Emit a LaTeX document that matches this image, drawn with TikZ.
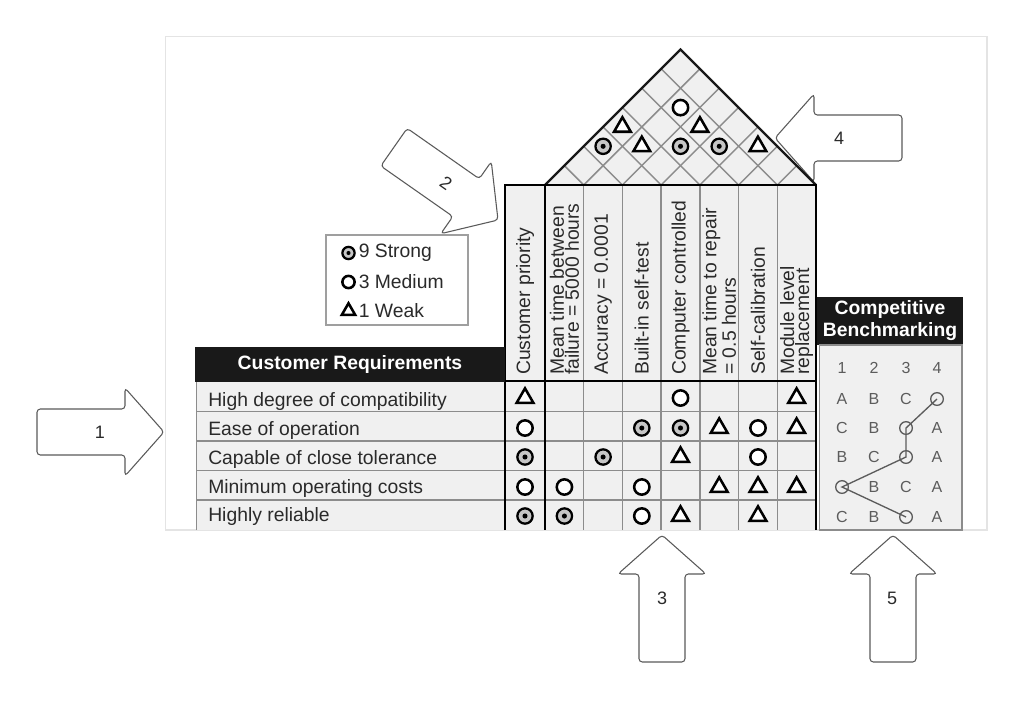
\documentclass[tikz,border=0pt]{standalone}
\usepackage{fontspec}
\setmainfont{Liberation Sans}
\usetikzlibrary{shapes.geometric}
\definecolor{cellgray}{HTML}{F0F0F0}
\definecolor{gridgray}{HTML}{8C8C8C}
\definecolor{framegray}{HTML}{E4E4E4}
\definecolor{arrowgray}{HTML}{5A5A5A}
\definecolor{inkgray}{HTML}{2A2A2A}
\definecolor{benchgray}{HTML}{5C5C5C}
\tikzset{
 gridline/.style={draw=gridgray, line width=1.1pt},
 heavy/.style={draw=black, line width=2.2pt, line join=miter},
 roofline/.style={draw=black!90, line width=1.7pt, line join=miter},
 strong/.style={circle, draw=black, line width=1.7pt, fill=gray!45, minimum size=11.5pt, inner sep=0pt,
   path picture={\fill[black] (path picture bounding box.center) circle[radius=1.9pt];}},
 medium/.style={circle, draw=black, line width=1.9pt, fill=white, minimum size=11.5pt, inner sep=0pt},
 weak/.style={regular polygon, regular polygon sides=3, draw=black, line width=1.9pt, fill=white, minimum size=14.5pt, inner sep=0pt},
 legsym/.style={scale=0.8},
 reqtext/.style={anchor=base west, inner sep=0pt, text=inkgray, font=\fontsize{14.5}{17}\selectfont},
 colhead/.style={rotate=90, anchor=west, align=left, inner sep=0pt, text=inkgray, font=\fontsize{14.5}{11.3}\selectfont},
 benchtext/.style={inner sep=0pt, text=benchgray, font=\fontsize{12}{14}\selectfont},
 bcirc/.style={circle, draw=benchgray, line width=1pt, minimum size=9.5pt, inner sep=0pt},
 bline/.style={draw=benchgray, line width=1pt},
 arrowlabel/.style={inner sep=0pt, text=inkgray, font=\fontsize{13.5}{16}\selectfont},
 headtext/.style={inner sep=0pt, text=white, align=center, font=\bfseries\fontsize{14.5}{16.5}\selectfont},
 blockarrow/.pic={\draw[draw=arrowgray, line width=0.8pt, fill=white, rounded corners=2.5pt]
   (-127,-23) -- (-39,-23) -- (-39,-44) -- (0,0) -- (-39,44) -- (-39,23) -- (-127,23) -- cycle;},
}
\begin{document}
\begin{tikzpicture}[x=0.75pt,y=-0.75pt]
\useasboundingbox (0,0) rectangle (1023,700);
\fill[white] (0,0) rectangle (1023,700);
\draw[framegray, line width=0.9pt, fill=white] (165.5,36.5) rectangle (987,530);

% callout arrows
\pic at (164,432) {blockarrow};
\pic[rotate=-35] at (498,220) {blockarrow};
\pic[rotate=90] at (662,535) {blockarrow};
\pic[rotate=180] at (775,138) {blockarrow};
\pic[rotate=90] at (893,535) {blockarrow};
\node[arrowlabel] (lab1) at (100,432) {1};
\node[arrowlabel, rotate=-35] (lab2) at (446,183) {2};
\node[arrowlabel] (lab3) at (662,598) {3};
\node[arrowlabel] (lab4) at (839,138) {4};
\node[arrowlabel] (lab5) at (892,598) {5};

% fills
\fill[cellgray] (505,185) rectangle (816,382);
\fill[cellgray] (196,382) rectangle (816,530);
\fill[cellgray] (545,185) -- (680.5,49.5) -- (816,185) -- cycle;

% roof grid
\foreach \i in {1,...,6} {
  \draw[gridline] ({545+\i*38.714},185) -- ({545+\i*19.357},{185-\i*19.357});
  \draw[gridline] ({545+\i*38.714},185) -- ({545+(7+\i)*19.357},{185-(7-\i)*19.357});
}
% matrix grid
\foreach \i in {1,...,6} \draw[gridline] ({545+\i*38.714},185) -- ({545+\i*38.714},530);
\foreach \y in {411.5,441,470.5,500} \draw[gridline] (196,\y) -- (816,\y);
\draw[gridline] (196.5,382) -- (196.5,530);

% heavy lines
\draw[roofline] (545,185) -- (680.5,49.5) -- (816,185);
\draw[heavy] (505,530) -- (505,185) -- (816,185) -- (816,530);
\draw[heavy] (545,185) -- (545,530);
\draw[heavy] (505,381) -- (816,381);

% customer requirements
\fill[black!90] (195,347) rectangle (505,382);
\node[headtext] (crh) at (350,364.5) {Customer Requirements};
\node[reqtext] (q1) at (208,406) {High degree of compatibility};
\node[reqtext] (q2) at (208,435) {Ease of operation};
\node[reqtext] (q3) at (208,464) {Capable of close tolerance};
\node[reqtext] (q4) at (208,493) {Minimum operating costs};
\node[reqtext] (q5) at (208,521) {Highly reliable};

% column headers
\node[colhead] (h0) at (525,375) {Customer priority};
\node[colhead] (h1) at (564.4,375) {Mean time between\\failure = 5000 hours};
\node[colhead] (h2) at (603.1,375) {Accuracy = 0.0001};
\node[colhead] (h3) at (641.8,375) {Built-in self-test};
\node[colhead] (h4) at (680.5,375) {Computer controlled};
\node[colhead] (h5) at (719.2,375) {Mean time to repair\\= 0.5 hours};
\node[colhead] (h6) at (758,375) {Self-calibration};
\node[colhead] (h7) at (796.6,375) {Module level\\replacement};

% relationship symbols
\foreach \n/\x/\y/\t in {
  a0/525/398/weak, a4/680.5/398/medium, a7/796.6/398/weak,
  b0/525/428/medium, b3/641.8/428/strong, b4/680.5/428/strong, b5/719.2/428/weak, b6/758/428/medium, b7/796.6/428/weak,
  c0/525/457/strong, c2/603.1/457/strong, c4/680.5/457/weak, c6/758/457/medium,
  d0/525/487/medium, d1/564.4/487/medium, d3/641.8/487/medium, d5/719.2/487/weak, d6/758/487/weak, d7/796.6/487/weak,
  e0/525/516/strong, e1/564.4/516/strong, e3/641.8/516/medium, e4/680.5/516/weak, e6/758/516/weak}
  \node[\t] (s\n) at (\x,\y) {};

% roof correlations
\foreach \n/\x/\y/\t in {
  r15/680.5/107.6/medium, r03/622.4/126.9/weak, r25/699.9/126.9/weak,
  r02/603.1/146.3/strong, r13/641.8/146.3/weak, r24/680.5/146.3/strong,
  r35/719.2/146.3/strong, r46/757.9/146.3/weak}
  \node[\t] (\n) at (\x,\y) {};

% legend
\draw[draw=gray!75, line width=0.8pt, fill=white] (326,235) rectangle (468,325);
\node[strong, legsym] (lg1) at (348.5,253) {};
\node[medium, legsym] (lg2) at (348.5,282) {};
\node[weak, legsym] (lg3) at (348.5,311) {};
\node[reqtext, anchor=west] (lt1) at (358.5,253) {9 Strong};
\node[reqtext, anchor=west] (lt2) at (358.5,282) {3 Medium};
\node[reqtext, anchor=west] (lt3) at (358.5,311) {1 Weak};

% competitive benchmarking
\fill[black!90] (817,297) rectangle (963,345);
\node[headtext] (cbh) at (890,321) {Competitive\\Benchmarking};
\draw[draw=gridgray, line width=1pt, fill=cellgray] (819.5,345) rectangle (962,530);
\draw[heavy] (816,297) -- (816,530);
\foreach \n/\x in {1/842,2/874,3/906,4/937}
  \node[benchtext] (num\n) at (\x,368) {\n};
\foreach \n/\x/\y/\t in {
  a1/842/399/A, b1/874/399/B, c1/906/399/C,
  a2/842/428/C, b2/874/428/B, d2/937/428/A,
  a3/842/457/B, b3/874/457/C, d3/937/457/A,
  b4/874/487/B, c4/906/487/C, d4/937/487/A,
  a5/842/517/C, b5/874/517/B, d5/937/517/A}
  \node[benchtext] (bt\n) at (\x,\y) {\t};
\node[bcirc] (bc1) at (937,399) {};
\node[bcirc] (bc2) at (906,428) {};
\node[bcirc] (bc3) at (906,457) {};
\node[bcirc] (bc4) at (842,487) {};
\node[bcirc] (bc5) at (906,517) {};
\draw[bline] (bc1.center) -- (bc2.center) -- (bc3.center) -- (bc4.center) -- (bc5.center);
\end{tikzpicture}
\end{document}
